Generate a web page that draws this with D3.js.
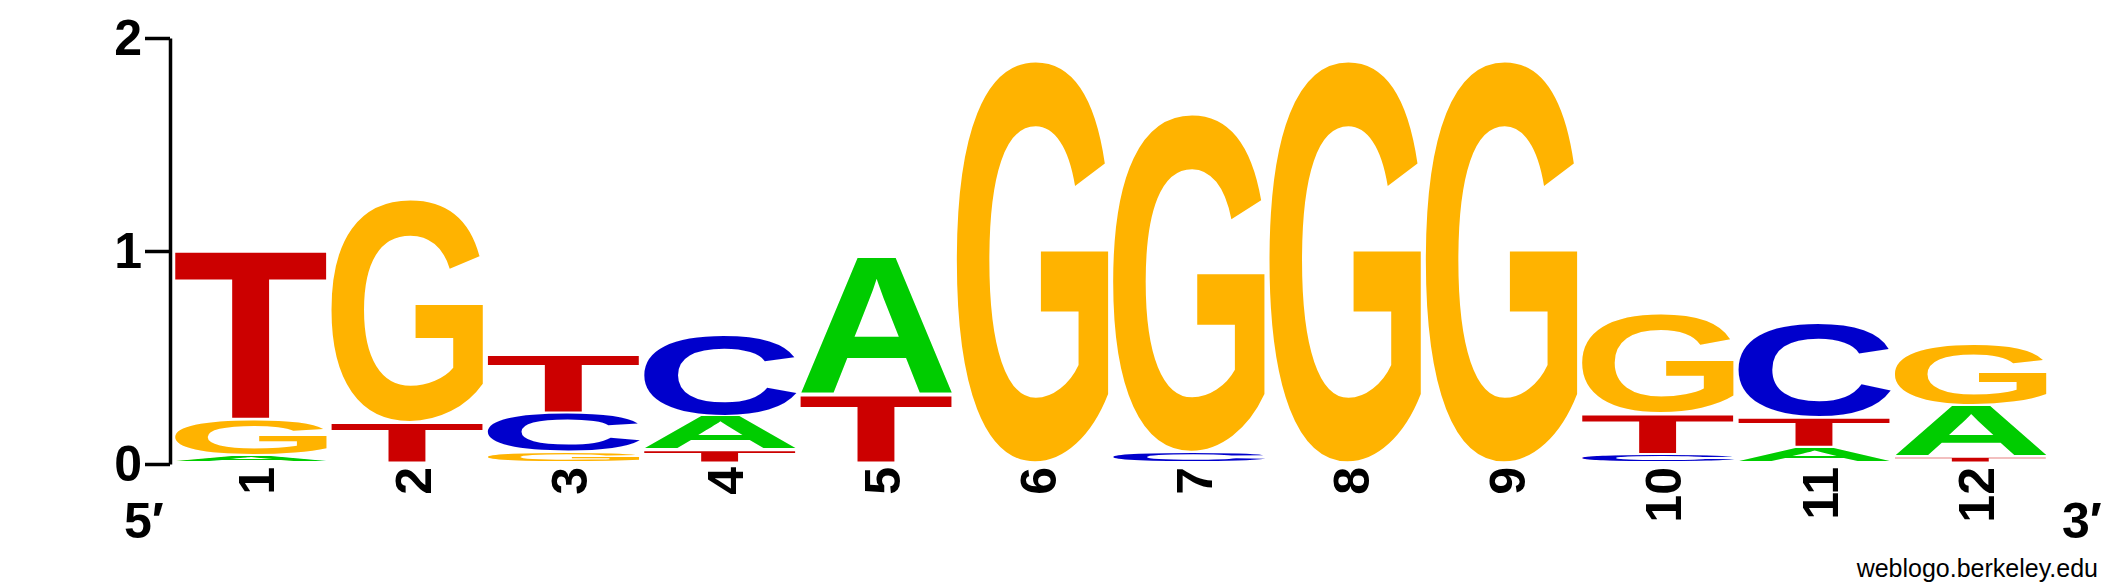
<!DOCTYPE html>
<html>
<head>
<meta charset="utf-8">
<script src="https://cdn.jsdelivr.net/npm/d3@7"></script>
<style>
  body { margin: 0; background: #fff; }
  svg { display: block; }
</style>
</head>
<body>
<svg id="logo-svg" width="2125" height="588"></svg>
<script>
// information content (bits) per letter, per position
const positions = ["1", "2", "3", "4", "5", "6", "7", "8", "9", "10", "11", "12"];
const bitsA = [0.035, 0, 0, 0.16, 0.65, 0, 0, 0, 0, 0, 0.074, 0.243];
const bitsC = [0, 0, 0.185, 0.38, 0, 0, 0.05, 0, 0, 0.04, 0.446, 0];
const bitsG = [0.17, 1.05, 0.05, 0, 0, 1.89, 1.59, 1.89, 1.89, 0.47, 0, 0.29];
const bitsT = [0.795, 0.19, 0.275, 0.06, 0.32, 0, 0, 0, 0, 0.19, 0.14, 0.03];
const yTicks = [0, 1, 2];

const letters = ["A", "C", "G", "T"];
const colors = { A: "#00CC00", C: "#0000CC", G: "#FFB300", T: "#CC0000" };
const FONT = "'Liberation Sans', Arial, Helvetica, sans-serif";
const GAP = 2.5; // small white space under each letter

const svg = d3.select("#logo-svg");

const x = d3
  .scaleBand()
  .domain(positions)
  .range([173, 2049])
  .paddingInner(0.025)
  .paddingOuter(0.0125);
const y = d3.scaleLinear().domain([0, 2]).range([464, 38]);

// ink box of each glyph, so letters can be stretched to fill their cell
const ctx = document.createElement("canvas").getContext("2d");
ctx.font = `bold 200px ${FONT}`;
const ink = {};
letters.forEach((l) => {
  const m = ctx.measureText(l);
  ink[l] = {
    left: m.actualBoundingBoxLeft,
    w: m.actualBoundingBoxLeft + m.actualBoundingBoxRight,
    asc: m.actualBoundingBoxAscent,
    h: m.actualBoundingBoxAscent + m.actualBoundingBoxDescent,
  };
});

const table = { A: bitsA, C: bitsC, G: bitsG, T: bitsT };
const stacks = positions.map((p, i) => {
  const col = letters
    .map((l) => ({ letter: l, bits: table[l][i] }))
    .filter((d) => d.bits > 0)
    .sort((a, b) => a.bits - b.bits);
  let base = 0;
  col.forEach((d) => {
    d.y0 = base;
    d.y1 = base + d.bits;
    d.pos = p;
    base = d.y1;
  });
  return col;
});

svg
  .append("g")
  .selectAll("text")
  .data(stacks.flat())
  .join("text")
  .attr("font-family", FONT)
  .attr("font-weight", "bold")
  .attr("font-size", 200)
  .attr("fill", (d) => colors[d.letter])
  .attr("transform", (d) => {
    const g = ink[d.letter];
    const w = x.bandwidth();
    const full = y(d.y0) - y(d.y1);
    const h = Math.max(full - Math.min(GAP, full * 0.4), 0.5);
    return `translate(${x(d.pos)},${y(d.y1)}) scale(${w / g.w},${h / g.h}) translate(${g.left},${g.asc})`;
  })
  .text((d) => d.letter);

// y axis
const yAxis = d3
  .axisLeft(y)
  .tickValues(yTicks)
  .tickSize(25)
  .tickSizeOuter(0)
  .tickPadding(3)
  .tickFormat(d3.format("d"));
const ay = svg.append("g").attr("transform", "translate(170,0)").call(yAxis);
ay.selectAll("path, line").attr("stroke", "#000").attr("stroke-width", 3.5);
ay.selectAll("text")
  .attr("font-family", FONT)
  .attr("font-weight", "bold")
  .attr("font-size", 50)
  .attr("fill", "#000");

// position numbers, rotated
svg
  .append("g")
  .selectAll("text")
  .data(positions)
  .join("text")
  .attr("transform", (p) => `translate(${x(p) + x.bandwidth() / 2 + 23},467) rotate(-90)`)
  .attr("text-anchor", "end")
  .attr("font-family", FONT)
  .attr("font-weight", "bold")
  .attr("font-size", 50)
  .text((p) => p);

svg
  .append("text")
  .attr("x", 124)
  .attr("y", 538)
  .attr("font-family", FONT)
  .attr("font-weight", "bold")
  .attr("font-size", 50)
  .text("5\u2032");
svg
  .append("text")
  .attr("x", 2062)
  .attr("y", 538)
  .attr("font-family", FONT)
  .attr("font-weight", "bold")
  .attr("font-size", 50)
  .text("3\u2032");

svg
  .append("text")
  .attr("x", 2098)
  .attr("y", 577)
  .attr("text-anchor", "end")
  .attr("font-family", FONT)
  .attr("font-size", 25)
  .text("weblogo.berkeley.edu");
</script>
</body>
</html>
